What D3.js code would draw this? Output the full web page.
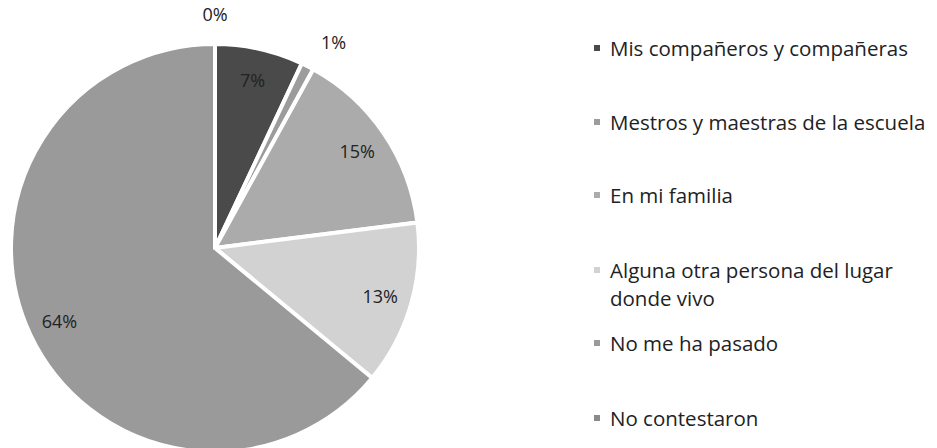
<!DOCTYPE html>
<html lang="es">
<head>
<meta charset="UTF-8">
<title>Pie chart</title>
<script src="https://cdn.jsdelivr.net/npm/d3@7"></script>
<style>
  body { margin: 0; background: #fff; }
  text { font-family: "Open Sans", sans-serif; fill: #222; }
</style>
</head>
<body>
<script>
// categories and values (percent), clockwise from 12 o'clock
const categories = [
  "Mis compañeros y compañeras",
  "Mestros y maestras de la escuela",
  "En mi familia",
  "Alguna otra persona del lugar donde vivo",
  "No me ha pasado",
  "No contestaron"
];
const values = [7, 1, 15, 13, 64, 0];
const legendLines = [
  ["Mis compañeros y compañeras"],
  ["Mestros y maestras de la escuela"],
  ["En mi familia"],
  ["Alguna otra persona del lugar", "donde vivo"],
  ["No me ha pasado"],
  ["No contestaron"]
];
const sliceColors = ["#4a4a4a", "#9c9c9c", "#ababab", "#d2d2d2", "#9a9a9a", "#8a8a8a"];

const width = 937, height = 448;
const cx = 215, cy = 248, R = 204;

const svg = d3.select("body").append("svg")
  .attr("width", width)
  .attr("height", height);

const data = categories.map((c, i) => ({ name: c, value: values[i], color: sliceColors[i] }));

const pie = d3.pie().value(d => d.value).sort(null);
const arcs = pie(data);

const arc = d3.arc().innerRadius(0).outerRadius(R);
const labelArc = d3.arc().innerRadius(172).outerRadius(172);

const g = svg.append("g").attr("transform", `translate(${cx},${cy})`);

g.selectAll("path.slice")
  .data(arcs)
  .enter().append("path")
  .attr("class", "slice")
  .attr("d", arc)
  .attr("fill", d => d.data.color)
  .attr("stroke", "#fff")
  .attr("stroke-width", 4)
  .attr("stroke-linejoin", "round");

// small slices get their label outside, nudged a little clockwise
function outsidePos(d) {
  const a = d.value === 0 ? 0 : (d.startAngle + d.endAngle) / 2 + 0.05;
  const r = d.value === 0 ? 234 : 238;
  return [Math.sin(a) * r, -Math.cos(a) * r];
}

g.selectAll("text.pct")
  .data(arcs)
  .enter().append("text")
  .attr("class", "pct")
  .attr("transform", d => {
    const p = d.data.value < 2 ? outsidePos(d) : labelArc.centroid(d);
    return `translate(${p[0]},${p[1]})`;
  })
  .attr("text-anchor", "middle")
  .attr("dominant-baseline", "central")
  .style("font-size", "18px")
  .text(d => d.data.value + "%");

// legend
const legendY = [48, 122, 195, 270, 343, 418];
const legend = svg.append("g").attr("transform", "translate(597,0)");

const items = legend.selectAll("g.item")
  .data(data)
  .enter().append("g")
  .attr("class", "item")
  .attr("transform", (d, i) => `translate(0,${legendY[i]})`);

items.append("rect")
  .attr("x", -3).attr("y", -3)
  .attr("width", 6).attr("height", 6)
  .attr("fill", d => d.color);

items.append("text")
  .attr("x", 13)
  .attr("dominant-baseline", "central")
  .style("font-size", "20.5px")
  .selectAll("tspan")
  .data((d, i) => legendLines[i])
  .enter().append("tspan")
  .attr("x", 13)
  .attr("dy", (d, j) => j === 0 ? 0 : 28)
  .text(d => d);
</script>
</body>
</html>
